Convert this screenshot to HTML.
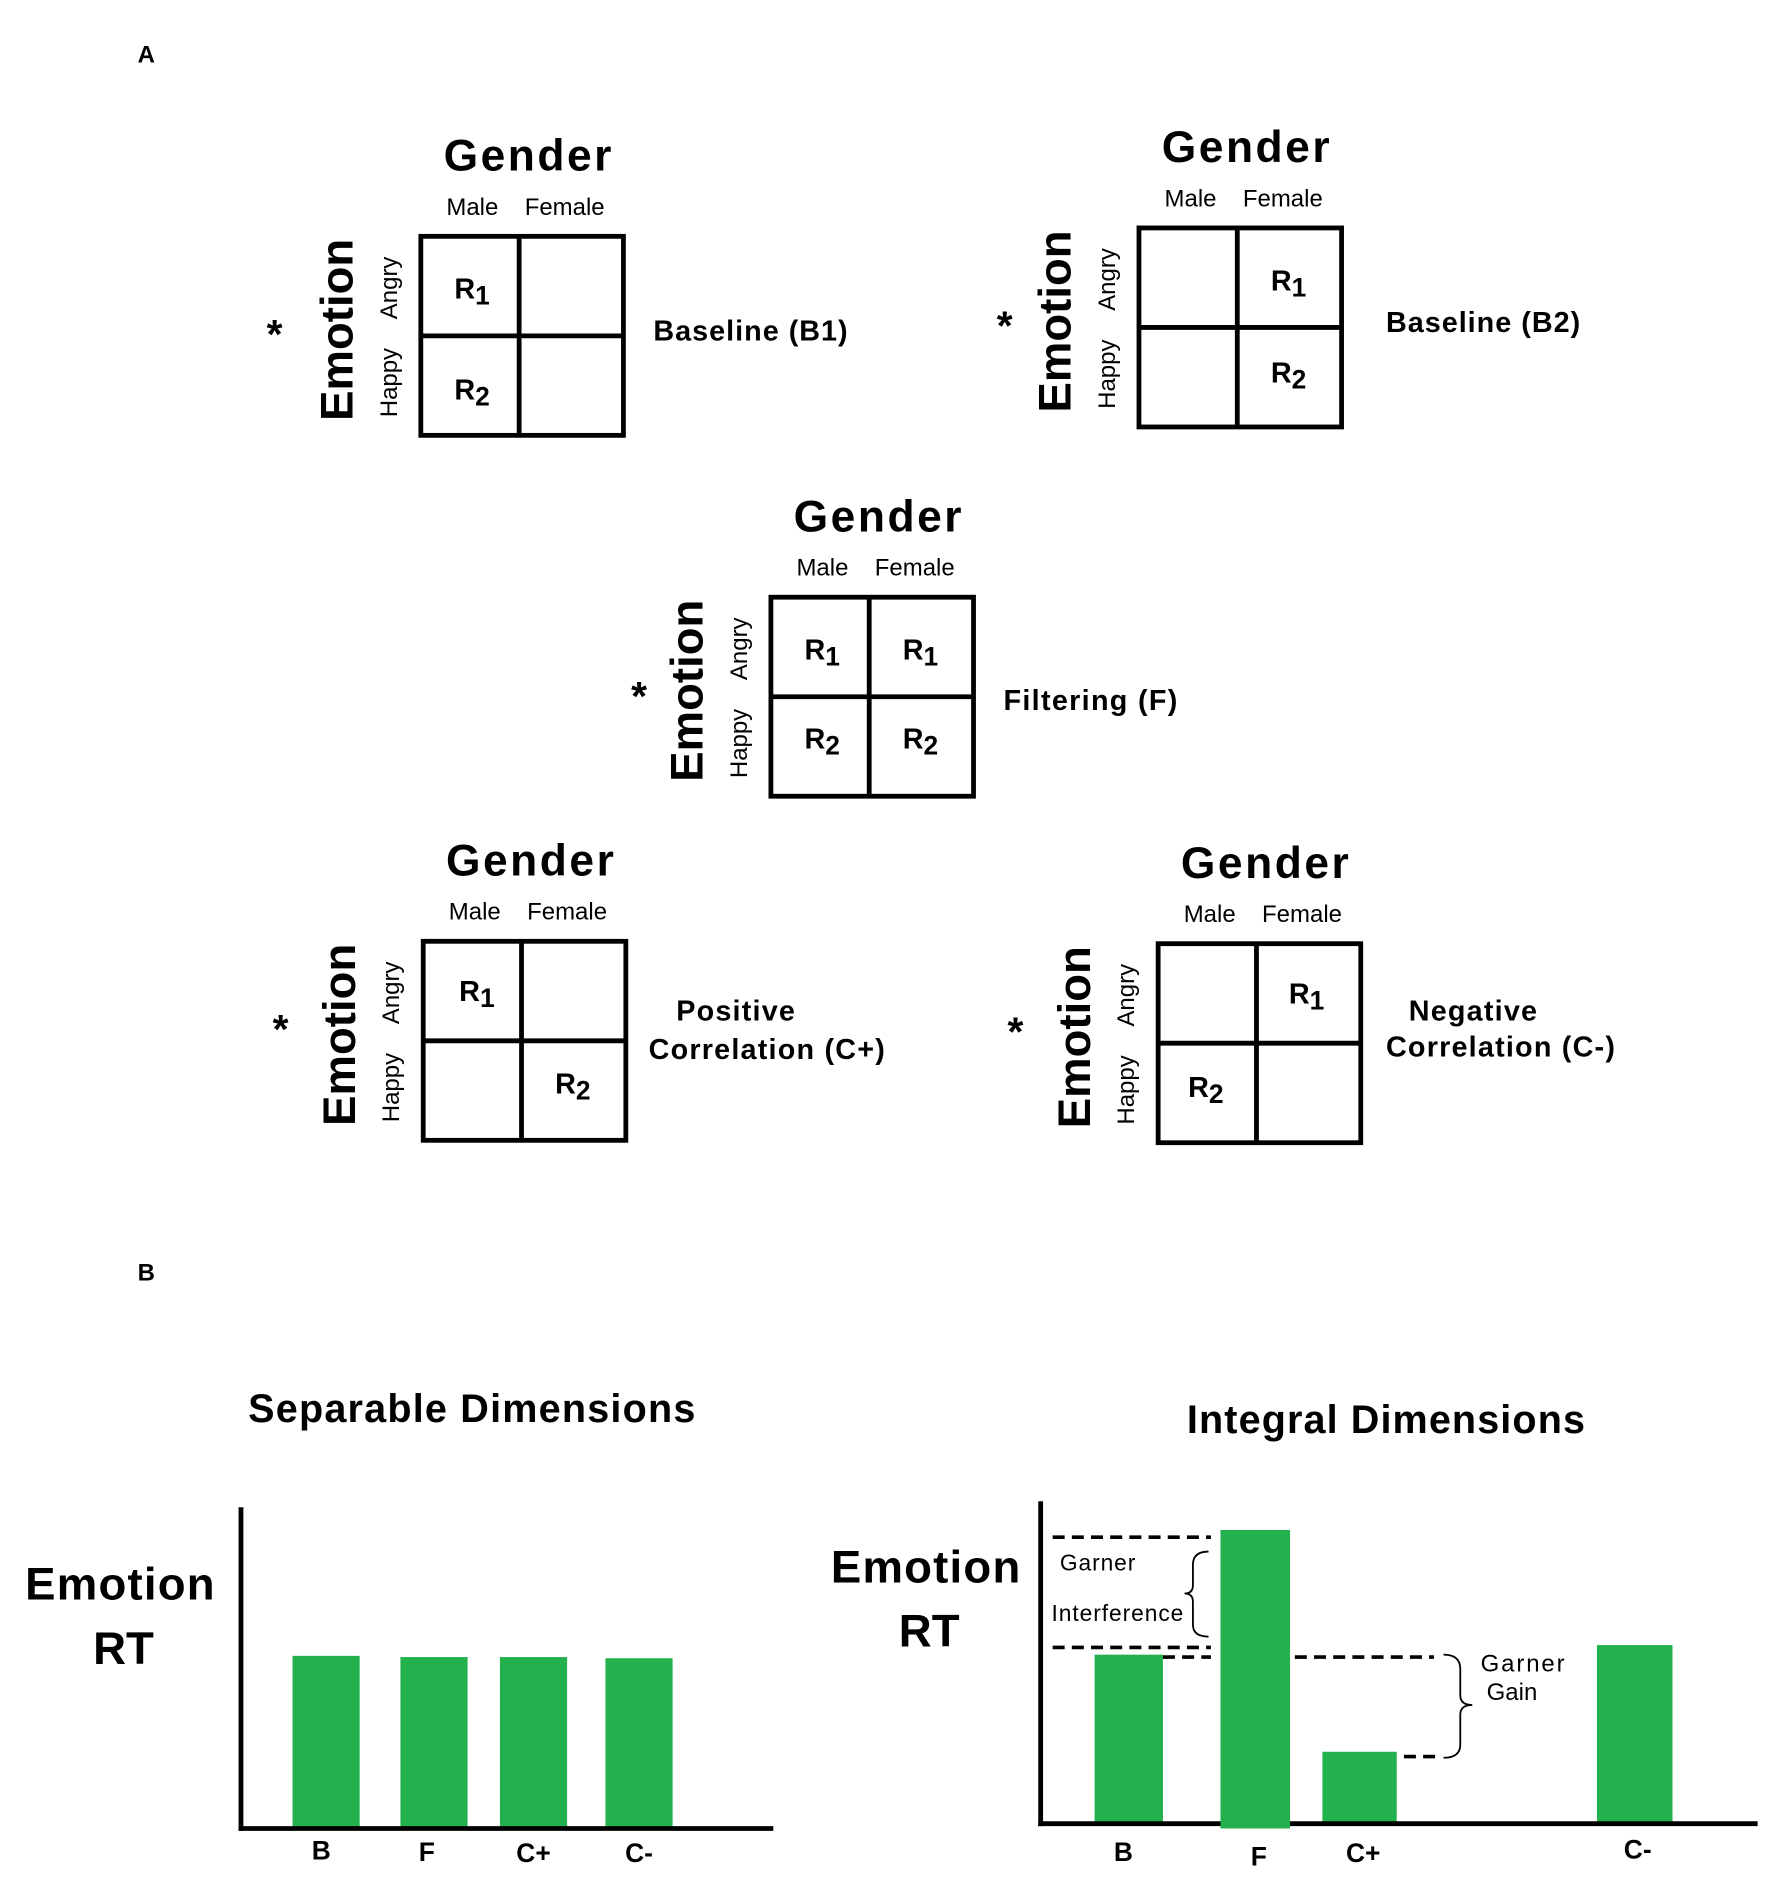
<!DOCTYPE html>
<html><head><meta charset="utf-8"><style>
html,body{margin:0;padding:0;background:#fff}
svg{display:block}
text{font-family:"Liberation Sans",Arial,sans-serif;fill:#000}
.b{font-weight:bold}
</style></head><body>
<svg width="1772" height="1879" viewBox="0 0 1478 1567" xmlns="http://www.w3.org/2000/svg">
<defs>
<g id="grid">
  <rect x="0" y="0" width="169" height="166" fill="none" stroke="#000" stroke-width="4"/>
  <line x1="82" y1="0" x2="82" y2="166" stroke="#000" stroke-width="4"/>
  <line x1="0" y1="83" x2="169" y2="83" stroke="#000" stroke-width="4"/>
  <text x="89" y="-55" text-anchor="middle" class="b" font-size="37" textLength="140">Gender</text>
  <text x="43" y="-18" text-anchor="middle" font-size="20">Male</text>
  <text x="120" y="-18" text-anchor="middle" font-size="20">Female</text>
  <text transform="translate(-57,78) rotate(-90)" text-anchor="middle" class="b" font-size="38">Emotion</text>
  <text transform="translate(-20,43) rotate(-90)" text-anchor="middle" font-size="20">Angry</text>
  <text transform="translate(-20,122) rotate(-90)" text-anchor="middle" font-size="20">Happy</text>
</g>
</defs>
<text x="122" y="52" text-anchor="middle" class="b" font-size="20">A</text>

<g class="b" font-size="34" text-anchor="middle">
<text x="229" y="290" class="b">*</text>
<text x="838" y="283" class="b">*</text>
<text x="533" y="592" class="b">*</text>
<text x="234" y="870" class="b">*</text>
<text x="847" y="872" class="b">*</text>
</g>

<g transform="translate(351,197)"><use href="#grid"/>
  <text x="28" y="52" class="b" font-size="24">R<tspan font-size="22" dy="5">1</tspan></text>
  <text x="28" y="136" class="b" font-size="24">R<tspan font-size="22" dy="5">2</tspan></text>
</g>
<text x="545" y="284" class="b" font-size="24" textLength="162">Baseline (B1)</text>

<g transform="translate(950,190)"><use href="#grid"/>
  <text x="110" y="52" class="b" font-size="24">R<tspan font-size="22" dy="5">1</tspan></text>
  <text x="110" y="129" class="b" font-size="24">R<tspan font-size="22" dy="5">2</tspan></text>
</g>
<text x="1156" y="277" class="b" font-size="24" textLength="162">Baseline (B2)</text>

<g transform="translate(643,498)"><use href="#grid"/>
  <text x="28" y="52" class="b" font-size="24">R<tspan font-size="22" dy="5">1</tspan></text>
  <text x="110" y="52" class="b" font-size="24">R<tspan font-size="22" dy="5">1</tspan></text>
  <text x="28" y="126" class="b" font-size="24">R<tspan font-size="22" dy="5">2</tspan></text>
  <text x="110" y="126" class="b" font-size="24">R<tspan font-size="22" dy="5">2</tspan></text>
</g>
<text x="837" y="592" class="b" font-size="24" textLength="145">Filtering (F)</text>

<g transform="translate(353,785)"><use href="#grid"/>
  <text x="30" y="50" class="b" font-size="24">R<tspan font-size="22" dy="5">1</tspan></text>
  <text x="110" y="127" class="b" font-size="24">R<tspan font-size="22" dy="5">2</tspan></text>
</g>
<text x="564" y="851" class="b" font-size="24" textLength="99">Positive</text>
<text x="541" y="883" class="b" font-size="24" textLength="197">Correlation (C+)</text>

<g transform="translate(966,787)"><use href="#grid"/>
  <text x="109" y="50" class="b" font-size="24">R<tspan font-size="22" dy="5">1</tspan></text>
  <text x="25" y="128" class="b" font-size="24">R<tspan font-size="22" dy="5">2</tspan></text>
</g>
<text x="1175" y="851" class="b" font-size="24" textLength="107">Negative</text>
<text x="1156" y="881" class="b" font-size="24" textLength="191">Correlation (C-)</text>

<text x="122" y="1068" text-anchor="middle" class="b" font-size="20">B</text>

<!-- Separable -->
<text x="207" y="1186" class="b" font-size="33" textLength="373">Separable Dimensions</text>
<text x="100" y="1334" text-anchor="middle" class="b" font-size="38" textLength="158">Emotion</text>
<text x="103" y="1388" text-anchor="middle" class="b" font-size="38">RT</text>
<g fill="#22b14c">
<rect x="244" y="1381" width="56" height="143"/>
<rect x="334" y="1382" width="56" height="142"/>
<rect x="417" y="1382" width="56" height="142"/>
<rect x="505" y="1383" width="56" height="141"/>
</g>
<line x1="201" y1="1257" x2="201" y2="1527" stroke="#000" stroke-width="4"/>
<line x1="199" y1="1525" x2="645" y2="1525" stroke="#000" stroke-width="4"/>
<g class="b" font-size="22" text-anchor="middle">
<text x="268" y="1551" class="b">B</text><text x="356" y="1552" class="b">F</text>
<text x="445" y="1553" class="b">C+</text><text x="533" y="1553" class="b">C-</text>
</g>

<!-- Integral -->
<text x="990" y="1195" class="b" font-size="33" textLength="332">Integral Dimensions</text>
<text x="772" y="1320" text-anchor="middle" class="b" font-size="38" textLength="158">Emotion</text>
<text x="775" y="1373" text-anchor="middle" class="b" font-size="38">RT</text>
<g fill="#22b14c">
<rect x="913" y="1380" width="57" height="142"/>
<rect x="1018" y="1276" width="58" height="249"/>
<rect x="1103" y="1461" width="62" height="61"/>
<rect x="1332" y="1372" width="63" height="150"/>
</g>
<line x1="868" y1="1252" x2="868" y2="1523" stroke="#000" stroke-width="4"/>
<line x1="866" y1="1521" x2="1018" y2="1521" stroke="#000" stroke-width="4"/>
<line x1="1076" y1="1521" x2="1466" y2="1521" stroke="#000" stroke-width="4"/>
<g stroke="#000" stroke-width="3" stroke-dasharray="10,6" fill="none">
<line x1="878" y1="1282" x2="1010" y2="1282"/>
<line x1="878" y1="1374" x2="1010" y2="1374"/>
<line x1="970" y1="1382" x2="1010" y2="1382"/>
<line x1="1080" y1="1382" x2="1196" y2="1382"/>
<line x1="1171" y1="1465" x2="1200" y2="1465"/>
</g>
<g stroke="#000" stroke-width="1.5" fill="none">
<path d="M1008,1294 Q995,1294 995,1305 L995,1322 Q995,1329 988,1329 Q995,1329 995,1336 L995,1355 Q995,1365 1008,1365"/>
<path d="M1204,1380 Q1218,1380 1218,1392 L1218,1414 Q1218,1422 1228,1422 Q1218,1422 1218,1430 L1218,1455 Q1218,1466 1204,1466"/>
</g>
<text x="884" y="1310" font-size="19" textLength="63">Garner</text>
<text x="877" y="1352" font-size="19" textLength="110">Interference</text>
<text x="1235" y="1394" font-size="20" textLength="70">Garner</text>
<text x="1240" y="1418" font-size="20">Gain</text>
<g font-size="22" text-anchor="middle">
<text x="937" y="1552" class="b">B</text><text x="1050" y="1556" class="b">F</text>
<text x="1137" y="1553" class="b">C+</text><text x="1366" y="1550" class="b">C-</text>
</g>
</svg>
</body></html>
